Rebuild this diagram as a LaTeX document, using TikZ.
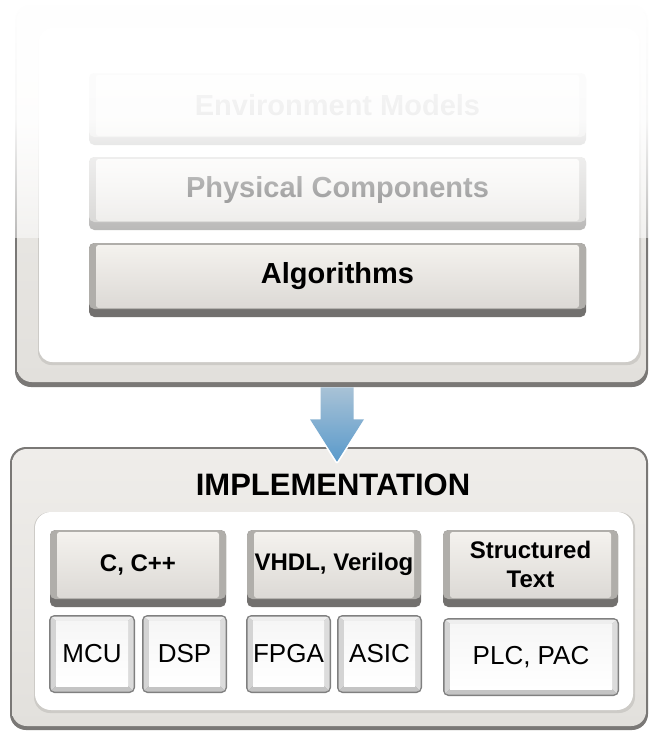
\documentclass[tikz,border=0pt]{standalone}
\usepackage{fontspec}
\setmainfont{Liberation Sans}
\usetikzlibrary{fadings,calc,fit}
\definecolor{framedark}{HTML}{7A7876}
\definecolor{frametop}{HTML}{EFEDEA}
\definecolor{framebot}{HTML}{E2E0DC}
\definecolor{innershadow}{HTML}{CDCBC7}
\definecolor{gbasec}{HTML}{72706E}
\definecolor{gsidec}{HTML}{B0AEAA}
\definecolor{gfacetop}{HTML}{F4F2EE}
\definecolor{gfacebot}{HTML}{DCD9D5}
\definecolor{woutc}{HTML}{808080}
\definecolor{bvtopc}{HTML}{EEEEEE}
\definecolor{bvleftc}{HTML}{D4D4D4}
\definecolor{bvrightc}{HTML}{DCDCDC}
\definecolor{bvbotc}{HTML}{C4C4C4}
\definecolor{arrtopc}{HTML}{A8C2D6}
\definecolor{arrbotc}{HTML}{5A9ACB}
\tikzfading[name=topfade, top color=transparent!0, bottom color=transparent!52, middle color=transparent!6]
\pgfdeclarelayer{bg}
\pgfdeclarelayer{mid}
\pgfsetlayers{bg,mid,main}
\tikzset{
  gbase/.style={fill=gbasec, rounded corners=4pt},
  gside/.style={fill=gsidec, rounded corners=4pt},
  gface/.style={top color=gfacetop, bottom color=gfacebot, rounded corners=2pt},
  toptext/.style={font=\fontsize{21.75}{26}\selectfont\bfseries, inner sep=0pt},
  gtext/.style={font=\fontsize{18}{21}\selectfont\bfseries, inner sep=0pt, align=center},
  wtext/.style={font=\fontsize{19.5}{23}\selectfont, inner sep=0pt},
  wout/.style={fill=woutc, rounded corners=4pt},
  frameouter/.style={fill=framedark, rounded corners=12pt, inner sep=0pt},
  frameface/.style={top color=frametop, bottom color=framebot, rounded corners=11pt},
}
% gray raised box: name, x1, y1, x2, y2, text, text style
\newcommand{\mkgbox}[7]{%
  \begin{pgfonlayer}{mid}
    \fill[gbase] (#2,#3) rectangle (#4,#5);
    \fill[gside] (#2,#3) rectangle (#4,#5-8);
    \shade[gface] (#2+7,#3+2) rectangle (#4-7,#5-9);
  \end{pgfonlayer}
  \node[#7] (#1) at ({(#2+#4)/2},{(#3+#5)/2-4}) {#6};}
% white bevelled button: name, x1, y1, x2, y2, text
\newcommand{\mkwbox}[6]{%
  \begin{pgfonlayer}{mid}
    \fill[wout] (#2,#3) rectangle (#4,#5);
    \begin{scope}
      \clip[rounded corners=3pt] (#2+1.5,#3+1.5) rectangle (#4-1.5,#5-1.5);
      \fill[bvtopc] (#2,#3) -- (#4,#3) -- (#4-7,#3+6) -- (#2+7,#3+6) -- cycle;
      \fill[bvleftc] (#2,#3) -- (#2+7,#3+6) -- (#2+7,#5-7) -- (#2,#5) -- cycle;
      \fill[bvrightc] (#4,#3) -- (#4,#5) -- (#4-7,#5-7) -- (#4-7,#3+6) -- cycle;
      \fill[bvbotc] (#2,#5) -- (#2+7,#5-7) -- (#4-7,#5-7) -- (#4,#5) -- cycle;
    \end{scope}
    \shade[top color=gray!7, bottom color=white] (#2+7,#3+6) rectangle (#4-7,#5-7);
  \end{pgfonlayer}
  \node[wtext] (#1) at ({(#2+#4)/2},{(#3+#5)/2}) {#6};}
\begin{document}
\begin{tikzpicture}[x=0.75pt,y=-0.75pt]
\useasboundingbox (0,0) rectangle (651,733);
% ---------- top frame ----------
\begin{pgfonlayer}{bg}
  \fill[white] (0,0) rectangle (651,733);
  \node[frameouter, fit={(15,5) (648,387)}] (topframe) {};
  \shade[frameface] (17,7) rectangle (646,382);
  \fill[innershadow, rounded corners=10pt] (38,28) rectangle (641,365);
  \fill[white, rounded corners=10pt] (39,28) rectangle (639,362);
\end{pgfonlayer}
\mkgbox{env}{89}{73}{586}{145}{Environment Models}{toptext}
\mkgbox{phys}{89}{157}{586}{230}{Physical Components}{toptext}
\mkgbox{alg}{89}{243}{586}{317}{Algorithms}{toptext}
% ---------- bottom frame ----------
\begin{pgfonlayer}{bg}
  \node[frameouter, fit={(10,447) (648,730)}] (implframe) {};
  \shade[frameface] (12,449) rectangle (646,726);
  \fill[innershadow, rounded corners=12pt] (34,512) rectangle (635,713);
  \fill[white, rounded corners=12pt] (35,512) rectangle (633,710);
\end{pgfonlayer}
\node[font=\fontsize{23.25}{28}\selectfont\bfseries, inner sep=0pt] (impl) at (333,485) {IMPLEMENTATION};
\mkgbox{cpp}{50}{530}{226}{607}{C, C++}{gtext}
\mkgbox{vhdl}{247}{530}{421}{607}{VHDL, Verilog}{gtext}
\mkgbox{st}{443}{530}{618}{607}{Structured\\[1pt]Text}{gtext}
\mkwbox{mcu}{49}{615}{135}{693}{MCU}
\mkwbox{dsp}{142}{615}{227}{693}{DSP}
\mkwbox{fpga}{246}{615}{331}{693}{FPGA}
\mkwbox{asic}{337}{615}{422}{693}{ASIC}
\mkwbox{plc}{443}{618}{619}{696}{PLC, PAC}
% ---------- block arrow from top frame to implementation frame ----------
\coordinate (arrtop) at ($(topframe.south)+(5.5,0)$);
\coordinate (arrtip) at ($(implframe.north)+(8,15)$);
\draw[white, line width=2.5pt, line join=round]
  ($(arrtop)+(16.5,32)$) -- ($(arrtop)+(27,32)$) -- (arrtip) -- ($(arrtop)+(-27,32)$) -- ($(arrtop)+(-16.5,32)$);
\shade[top color=arrtopc, bottom color=arrbotc]
  ($(arrtop)+(-16.5,0)$) -- ($(arrtop)+(16.5,0)$) -- ($(arrtop)+(16.5,32)$) -- ($(arrtop)+(27,32)$)
  -- (arrtip) -- ($(arrtop)+(-27,32)$) -- ($(arrtop)+(-16.5,32)$) -- cycle;
% ---------- fading overlay on the upper part ----------
\fill[white, path fading=topfade] (0,0) rectangle (651,238);
\end{tikzpicture}
\end{document}
